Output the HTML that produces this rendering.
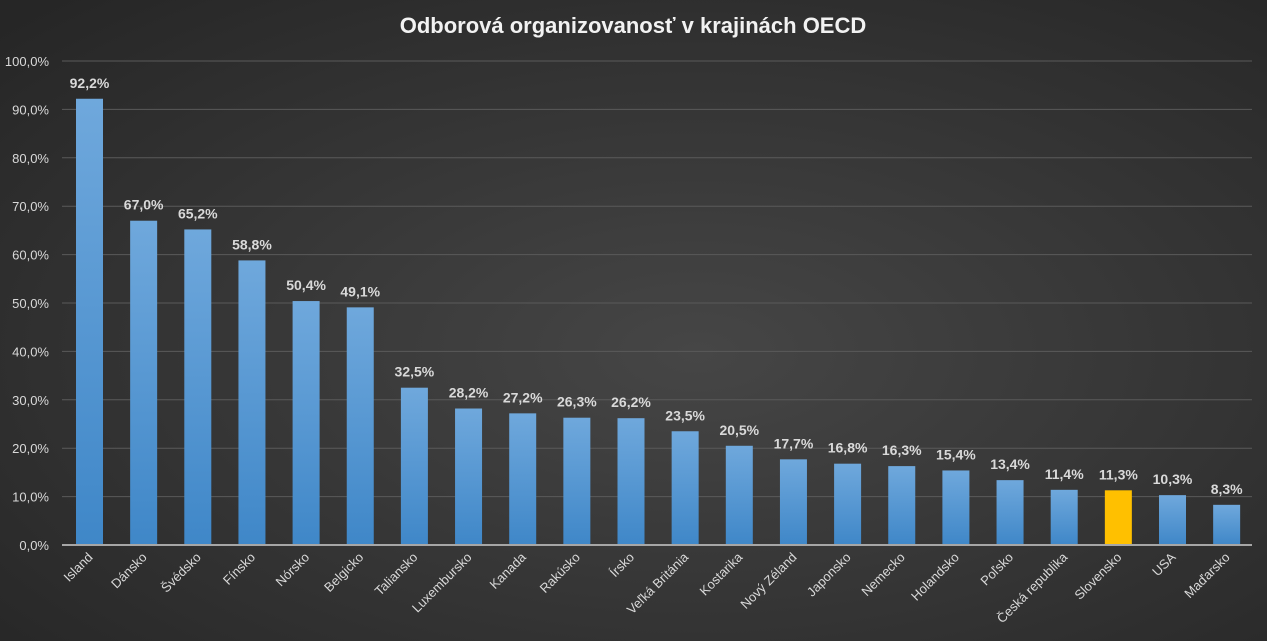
<!DOCTYPE html>
<html><head><meta charset="utf-8"><style>
html,body{margin:0;padding:0;width:1267px;height:641px;overflow:hidden;background:#333}
svg{display:block;font-family:"Liberation Sans",sans-serif}
</style></head><body>
<svg width="1267" height="641" xmlns="http://www.w3.org/2000/svg">
<defs>
<radialGradient id="bg" cx="0.55" cy="0.55" r="0.75">
<stop offset="0" stop-color="#464646"/><stop offset="1" stop-color="#262626"/>
</radialGradient>
<linearGradient id="bar" x1="0" y1="0" x2="0" y2="1">
<stop offset="0" stop-color="#6fa8dc"/><stop offset="1" stop-color="#3f87c8"/>
</linearGradient>
</defs>
<rect width="1267" height="641" fill="url(#bg)"/>
<text x="633" y="33" text-anchor="middle" font-size="22" font-weight="bold" fill="#f2f2f2">Odborová organizovanosť v krajinách OECD</text>
<g id="grid" stroke="#5a5a5a" stroke-width="1"></g>
<g id="yl" font-size="13" fill="#d9d9d9" text-anchor="end"></g>
<g id="bars"></g>
<line x1="62" y1="545" x2="1252" y2="545" stroke="#a6a6a6" stroke-width="2"/>
</svg>
<script>
var ns="http://www.w3.org/2000/svg";
function el(t,a,p,txt){var e=document.createElementNS(ns,t);for(var k in a)e.setAttribute(k,a[k]);if(txt!==undefined)e.textContent=txt;p.appendChild(e);return e;}
var g=document.getElementById('grid'),yl=document.getElementById('yl'),b=document.getElementById('bars');
for(var i=0;i<=10;i++){var y=545-i*48.4;if(i>0)el('line',{x1:62,x2:1252,y1:y,y2:y},g);el('text',{x:49,y:y+5},yl,(i*10)+',0%');}
var d=[["Island",92.2],["Dánsko",67.0],["Švédsko",65.2],["Fínsko",58.8],["Nórsko",50.4],["Belgicko",49.1],["Taliansko",32.5],["Luxembursko",28.2],["Kanada",27.2],["Rakúsko",26.3],["Írsko",26.2],["Veľká Británia",23.5],["Kostarika",20.5],["Nový Zéland",17.7],["Japonsko",16.8],["Nemecko",16.3],["Holandsko",15.4],["Poľsko",13.4],["Česká republika",11.4],["Slovensko",11.3],["USA",10.3],["Maďarsko",8.3]];
d.forEach(function(r,i){var c=89.5+i*54.15,h=r[1]*4.84,top=545-h;
el('rect',{x:c-13.5,y:top,width:27,height:h,fill:r[0]=="Slovensko"?"#ffc000":"url(#bar)"},b);
el('text',{x:c,y:top-11,'text-anchor':'middle','font-size':14,'font-weight':'bold',fill:'#d9d9d9'},b,r[1].toFixed(1).replace('.',',')+'%');
el('text',{x:c+4,y:558,'text-anchor':'end','font-size':13,fill:'#d9d9d9',transform:'rotate(-45 '+(c+4)+' 558)'},b,r[0]);
});
</script>
</body></html>
